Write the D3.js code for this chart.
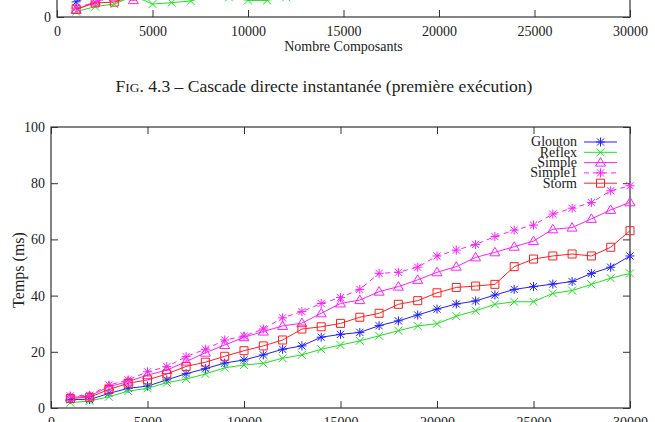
<!DOCTYPE html>
<html><head><meta charset="utf-8">
<script src="https://cdn.jsdelivr.net/npm/d3@7"></script>
<style>body{margin:0;background:#fff} svg{display:block}</style>
</head><body>
<svg id="c" width="655" height="422"></svg>
<script>
// ---------- DATA ----------
const composants = [1000,2000,3000,4000,5000,6000,7000,8000,9000,10000,11000,12000,13000,14000,15000,
  16000,17000,18000,19000,20000,21000,22000,23000,24000,25000,26000,27000,28000,29000,30000];
const xTicks = [0,5000,10000,15000,20000,25000,30000];
const yTicks = [0,20,40,60,80,100];
const seriesNames = ["Glouton","Reflex","Simple","Simple1","Storm"];

const glouton = [3,3,5.2,7,7.8,10,12.2,14,16,17.1,18.9,20.9,22.1,25.2,26.2,26.9,29.3,31,33.1,35.2,37,38.1,40.2,42.2,43.2,44.1,45,47.9,50.1,54.1];
const reflex  = [1.9,2.5,4,6,7,9,10.3,12.1,14.3,15.3,15.9,17.7,18.9,20.9,22.4,23.9,25.7,27.5,29.2,30,32.7,34.6,36.9,37.8,37.8,40.8,41.8,44,46.2,47.9];
const simple  = [3.8,4.2,7.6,9.4,11.7,13.5,16.5,19.7,22.4,25.2,27.2,29.2,30.2,33.7,37.2,38.4,41.4,43.2,45.6,48.3,50.3,53.6,55.4,57.4,59.4,63.6,64.2,67.3,70.5,73.2];
const simple1 = [4.3,4.5,8.2,10,12.9,14.7,18.3,20.9,24.2,25.6,28.1,32.1,34.3,37.2,39.3,42.2,47.9,48.3,50.1,54.1,56.2,58.2,61,63.3,65.1,69,71.1,73.1,77.3,79.1];
const storm   = [3.4,3.8,6.6,8.8,10,12.1,14.8,16.3,18.4,20.4,22.1,24.2,28.1,28.9,30.1,32.3,33.7,36.9,38.2,41,42.9,43.4,44,50.3,53,54.1,54.8,54.1,57.2,63.1];

// previous figure (only its bottom edge is visible)
const prevGloutonX = [1000,2000];            const prevGlouton = [5.4,8];
const prevReflexX  = [1000,2000,3000,4000,5000,6000,7000,8000,9000,10000,11000,12000];
const prevReflex   = [1.9,3.7,4.6,7.5,4.6,5.1,5.7,7.5,7,5.9,5.9,7];
const prevSimpleX  = [1000,2000,3000,4000,5000]; const prevSimple = [2.5,5.5,7,6.0,7.5];
const prevSimple1X = [1000,2000,3000];       const prevSimple1 = [3.2,5.3,7.5];
const prevStormX   = [1000,2000,3000,4000];  const prevStorm = [2.8,5,5.3,7.5];

// ---------- STYLE ----------
const font = "'Liberation Serif','Times New Roman',serif";
const styles = {
  Glouton: {color:"#2020ff", marker:"star", dash:null},
  Reflex:  {color:"#20e020", marker:"x", dash:null},
  Simple:  {color:"#ff20ff", marker:"tri", dash:null},
  Simple1: {color:"#ff20ff", marker:"star", dash:"5,4"},
  Storm:   {color:"#ff2020", marker:"sq", dash:null}
};
function markerPath(t){
  if(t==="star"){const s=4.5,d=3.6;return `M${-s},0H${s}M0,${-s}V${s}M${-d},${-d}L${d},${d}M${-d},${d}L${d},${-d}`;}
  if(t==="x"){const s=4;return `M${-s},${-s}L${s},${s}M${-s},${s}L${s},${-s}`;}
  if(t==="tri"){return `M0,-5L5,3.5L-5,3.5Z`;}
  if(t==="sq"){const s=4;return `M${-s},${-s}H${s}V${s}H${-s}Z`;}
}

const svg = d3.select("#c");

function drawFrame(x, y, top, bottom, yLabelTicks){
  const g = svg.append("g");
  const bx = g.append("g").attr("transform",`translate(0,${bottom})`)
    .call(d3.axisBottom(x).tickValues(xTicks).tickSize(-7).tickPadding(9).tickFormat(d3.format("d")));
  const tx = g.append("g").attr("transform",`translate(0,${top})`)
    .call(d3.axisTop(x).tickValues(xTicks).tickSize(-7).tickFormat(""));
  const ly = g.append("g").attr("transform",`translate(${x.range()[0]},0)`)
    .call(d3.axisLeft(y).tickValues(yLabelTicks).tickSize(-7).tickPadding(6).tickFormat(d3.format("d")));
  const ry = g.append("g").attr("transform",`translate(${x.range()[1]},0)`)
    .call(d3.axisRight(y).tickValues(yLabelTicks).tickSize(-7).tickFormat(""));
  [bx,tx,ly,ry].forEach(a=>{
    a.select(".domain").remove();
    a.selectAll("line").attr("stroke","#333").attr("stroke-width",1);
    a.selectAll("text").attr("font-family",font).attr("font-size",14).attr("fill","#222");
  });
  g.append("rect").attr("x",x.range()[0]).attr("y",top)
    .attr("width",x.range()[1]-x.range()[0]).attr("height",bottom-top)
    .attr("fill","none").attr("stroke","#333").attr("stroke-width",1.2);
}

function drawSeries(x, y, name, xs, vals){
  const st = styles[name];
  const pts = xs.map((c,i)=>[c,vals[i]]);
  const g = svg.append("g");
  g.append("path").datum(pts)
    .attr("d", d3.line().x(d=>x(d[0])).y(d=>y(d[1])))
    .attr("fill","none").attr("stroke",st.color).attr("stroke-width",1)
    .attr("stroke-dasharray",st.dash);
  g.selectAll(".m").data(pts).join("path")
    .attr("transform",d=>`translate(${x(d[0])},${y(d[1])})`)
    .attr("d",markerPath(st.marker)).attr("fill","none")
    .attr("stroke",st.color).attr("stroke-width",1);
}

// ---------- previous figure bottom ----------
const px = d3.scaleLinear().domain([0,30000]).range([57,630]);
const py = d3.scaleLinear().domain([0,100]).range([17,-264]);
const prevSets = [[prevGloutonX,prevGlouton],[prevReflexX,prevReflex],[prevSimpleX,prevSimple],[prevSimple1X,prevSimple1],[prevStormX,prevStorm]];
seriesNames.forEach((n,i)=>drawSeries(px,py,n,prevSets[i][0],prevSets[i][1]));
drawFrame(px,py,-264,17,[0]);
svg.append("text").attr("x",343.5).attr("y",51).attr("text-anchor","middle")
  .attr("font-family",font).attr("font-size",14).attr("fill","#222").text("Nombre Composants");

// caption
const cap = svg.append("text").attr("x",324).attr("y",92).attr("text-anchor","middle")
  .attr("font-family",font).attr("font-size",17).attr("fill","#222");
cap.append("tspan").text("F");
cap.append("tspan").attr("font-size",13).text("IG");
cap.append("tspan").text(". 4.3 – Cascade directe instantanée (première exécution)");
const cw = cap.node().getComputedTextLength();
cap.attr("transform",`translate(324,92) scale(${417/cw},1) translate(-324,-92)`);

// ---------- main figure ----------
const x = d3.scaleLinear().domain([0,30000]).range([51,630]);
const y = d3.scaleLinear().domain([0,100]).range([408,127]);
drawFrame(x,y,127,408,yTicks);
const mainSets = [glouton,reflex,simple,simple1,storm];
seriesNames.forEach((n,i)=>drawSeries(x,y,n,composants,mainSets[i]));

svg.append("text").attr("transform","translate(18,270) rotate(-90)")
  .attr("text-anchor","middle").attr("dy","0.35em")
  .attr("font-family",font).attr("font-size",16).attr("fill","#222").text("Temps (ms)");

// legend
const leg = svg.append("g");
seriesNames.forEach((n,i)=>{
  const st = styles[n], ly = 142 + i*10.3;
  leg.append("text").attr("x",577).attr("y",ly).attr("dy","0.32em").attr("text-anchor","end")
    .attr("font-family",font).attr("font-size",14).attr("fill","#222").text(n);
  leg.append("line").attr("x1",584).attr("x2",617).attr("y1",ly).attr("y2",ly)
    .attr("stroke",st.color).attr("stroke-width",1).attr("stroke-dasharray",st.dash);
  leg.append("path").attr("transform",`translate(600.5,${ly})`).attr("d",markerPath(st.marker))
    .attr("fill","none").attr("stroke",st.color).attr("stroke-width",1);
});
</script>
</body></html>
